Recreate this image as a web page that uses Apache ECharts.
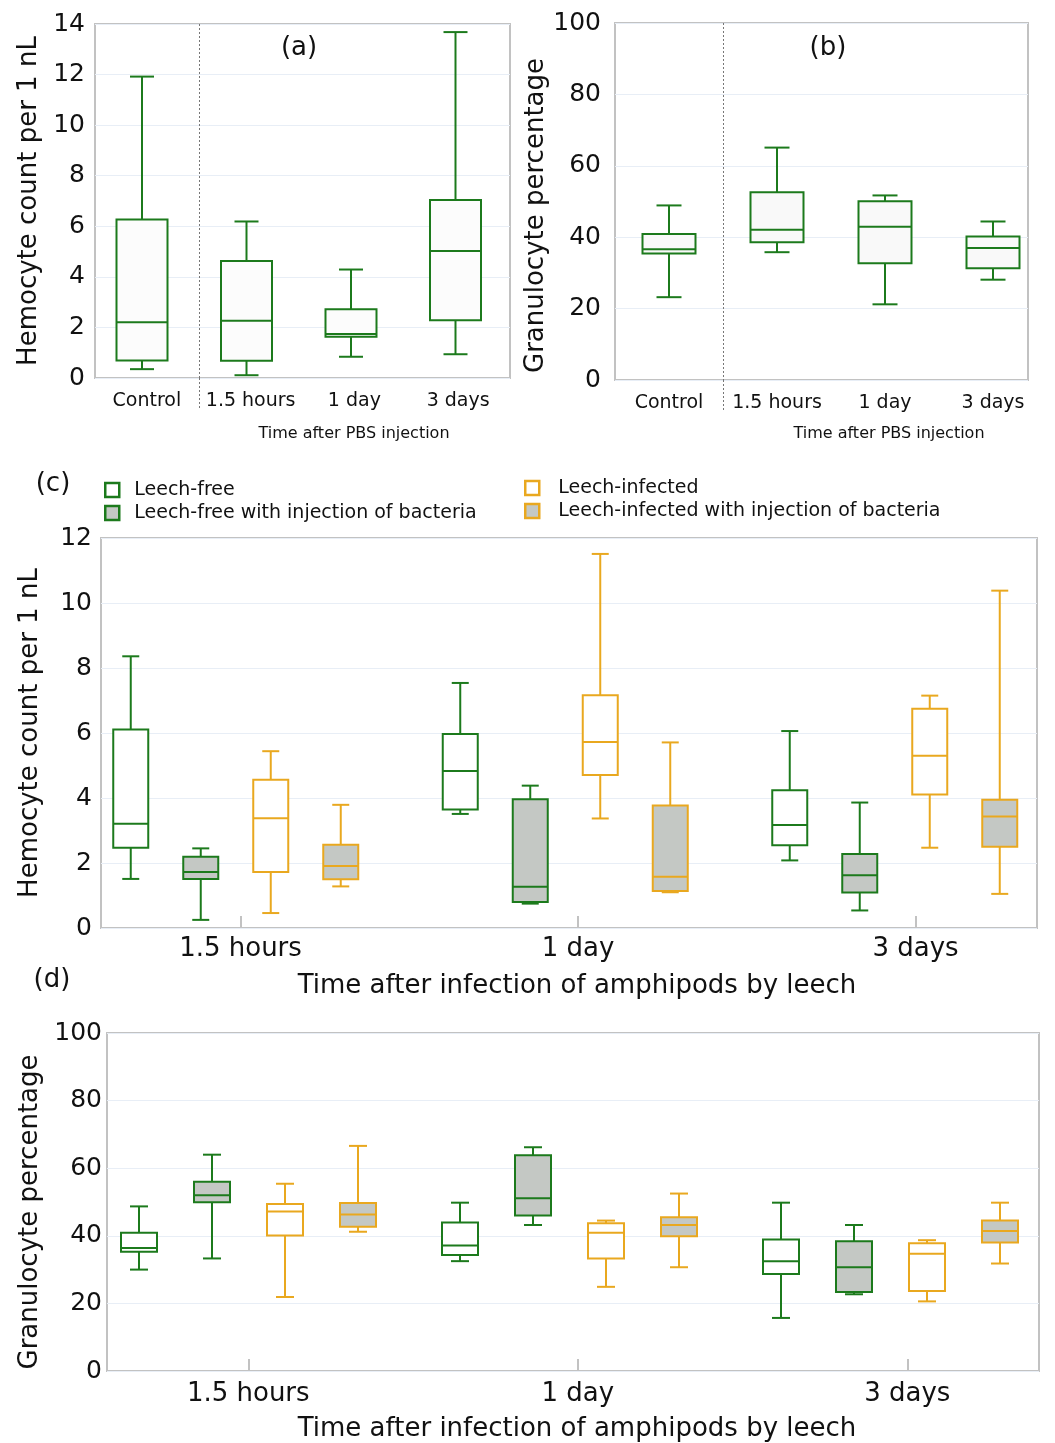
<!DOCTYPE html>
<html lang="en">
<head>
    <meta charset="UTF-8">
    <title>Hemocytes and granulocytes</title>
    <style>
        html, body { margin: 0; padding: 0; background: #fff; }
        #main { width: 1055px; height: 1443px; }
    </style>
</head>
<body>
<div id="main"></div>
<script src="https://cdn.jsdelivr.net/npm/echarts@6/dist/echarts.min.js"></script>
<script>
    // categories
    var timesPBS = ['Control', '1.5 hours', '1 day', '3 days'];
    var timesLeech = ['1.5 hours', '1 day', '3 days'];

    // every box is [min, Q1, median, Q3, max]
    var hemoPBS = [
        [0.35, 0.69, 2.20, 6.27, 11.92],
        [0.11, 0.68, 2.26, 4.63, 6.19],
        [0.84, 1.63, 1.74, 2.72, 4.29],
        [0.94, 2.28, 5.02, 7.04, 13.68]
    ];
    var granPBS = [
        [23.2, 35.4, 36.6, 40.9, 48.9],
        [35.8, 38.6, 42.1, 52.6, 65.1],
        [21.2, 32.7, 42.9, 50.1, 51.7],
        [28.1, 31.3, 37.0, 40.2, 44.4]
    ];

    var hemoLeechFree     = [[1.51, 2.47, 3.21, 6.11, 8.36], [3.51, 3.65, 4.83, 5.97, 7.54], [2.08, 2.55, 3.17, 4.24, 6.06]];
    var hemoLeechFreeBact = [[0.25, 1.51, 1.72, 2.19, 2.45], [0.75, 0.80, 1.27, 3.96, 4.38], [0.54, 1.09, 1.62, 2.28, 3.86]];
    var hemoInfected      = [[0.46, 1.72, 3.38, 4.56, 5.44], [3.37, 4.71, 5.72, 7.16, 11.51], [2.47, 4.11, 5.30, 6.75, 7.15]];
    var hemoInfectedBact  = [[1.28, 1.50, 1.91, 2.56, 3.79], [1.10, 1.14, 1.58, 3.77, 5.71], [1.05, 2.50, 3.43, 3.95, 10.38]];

    var granLeechFree     = [[30.0, 35.3, 36.4, 40.9, 48.7], [32.5, 34.3, 37.1, 43.9, 49.8], [15.7, 28.7, 32.5, 38.9, 49.8]];
    var granLeechFreeBact = [[33.3, 49.9, 52.0, 56.0, 64.0], [43.2, 46.0, 51.1, 63.8, 66.2], [22.7, 23.4, 30.7, 38.4, 43.2]];
    var granInfected      = [[21.9, 40.1, 47.2, 49.4, 55.4], [24.9, 33.3, 40.9, 43.7, 44.5], [20.6, 23.7, 34.7, 37.8, 38.7]];
    var granInfectedBact  = [[41.2, 42.7, 46.3, 49.7, 66.6], [30.7, 39.9, 43.2, 45.5, 52.5], [31.8, 38.0, 41.4, 44.5, 49.8]];

    var GREEN = '#1c7a1c';
    var ORANGE = '#e9a81f';
    var GRAY = '#c4c8c4';
    var FONT = 'DejaVu Sans';
    var BORDER = '#c2c2c2';
    var GRIDLINE = '#e8eef6';

    // [min, q1, med, q3, max] -> [categoryIndex, min, q1, med, q3, max]
    function withIndex(rows) {
        return rows.map(function (r, i) { return [i].concat(r); });
    }

    // box drawn with the axis scales, caps are narrower than the box
    function boxRenderer(lineColor, fillColor, boxW, capW, shift) {
        return function (params, api) {
            var cat = api.value(0);
            var pt = function (k) { return api.coord([cat, api.value(k)]); };
            var x = pt(3)[0] + shift;
            var yMin = pt(1)[1], yQ1 = pt(2)[1], yMed = pt(3)[1], yQ3 = pt(4)[1], yMax = pt(5)[1];
            function ln(x1, y1, x2, y2) {
                return {type: 'line', shape: {x1: x1, y1: y1, x2: x2, y2: y2},
                    style: {stroke: lineColor, lineWidth: 2, fill: null}};
            }
            return {
                type: 'group',
                children: [
                    ln(x, yMax, x, yQ3),
                    ln(x, yQ1, x, yMin),
                    ln(x - capW / 2, yMax, x + capW / 2, yMax),
                    ln(x - capW / 2, yMin, x + capW / 2, yMin),
                    {type: 'rect', shape: {x: x - boxW / 2, y: yQ3, width: boxW, height: yQ1 - yQ3},
                        style: {fill: fillColor, stroke: lineColor, lineWidth: 2}},
                    ln(x - boxW / 2, yMed, x + boxW / 2, yMed)
                ]
            };
        };
    }

    function boxSeries(name, rows, axisIdx, lineColor, fillColor, boxW, capW, shift) {
        return {
            type: 'custom',
            name: name,
            xAxisIndex: axisIdx,
            yAxisIndex: axisIdx,
            data: withIndex(rows),
            encode: {x: 0, y: [1, 2, 3, 4, 5]},
            itemStyle: {color: fillColor, borderColor: lineColor},
            renderItem: boxRenderer(lineColor, fillColor, boxW, capW, shift)
        };
    }

    function valueAxis(grid, max, step, margin, name, nameGap, namePad) {
        return {
            type: 'value', gridIndex: grid, min: 0, max: max, interval: step,
            axisLine: {show: false}, axisTick: {show: false},
            axisLabel: {fontSize: 25, fontFamily: FONT, color: '#111', margin: margin},
            splitLine: {lineStyle: {color: GRIDLINE, width: 1}},
            name: name, nameLocation: 'middle', nameGap: nameGap,
            nameTextStyle: {fontSize: 26, fontFamily: FONT, color: '#111', padding: namePad || 0}
        };
    }
    function hiddenValue(grid, max) {
        return {type: 'value', gridIndex: grid, min: 0, max: max, show: false, splitLine: {show: false}};
    }
    function hiddenCat(grid, cats) {
        return {type: 'category', gridIndex: grid, data: cats, show: false};
    }
    function pbsAxis(grid) {
        return {
            type: 'category', gridIndex: grid, data: timesPBS,
            axisLine: {show: false}, axisTick: {show: false},
            axisLabel: {fontSize: 19, fontFamily: FONT, color: '#111', margin: 14, interval: 0}
        };
    }
    // dotted divider after "Control": one tick on a 0..n band axis
    function dividerAxis(grid) {
        var dotted = {color: '#777', width: 1, type: [2, 2]};
        return {
            type: 'value', gridIndex: grid, position: 'bottom', min: 0, max: timesPBS.length,
            axisLine: {show: false}, axisLabel: {show: false},
            axisTick: {show: true, customValues: [1], length: 32, lineStyle: dotted},
            splitLine: {show: true, lineStyle: dotted}
        };
    }
    function leechAxis(grid, margin) {
        return {
            type: 'category', gridIndex: grid, data: timesLeech,
            axisLine: {show: false},
            axisTick: {show: true, alignWithLabel: true, inside: true, length: 12,
                lineStyle: {color: BORDER, width: 2}},
            axisLabel: {fontSize: 26, fontFamily: FONT, color: '#111', margin: margin, interval: 0}
        };
    }

    function title(text, left, top, size) {
        return {text: text, left: left, top: top, textAlign: 'center', padding: 0,
            textStyle: {fontSize: size, fontWeight: 'normal', fontFamily: FONT, color: '#111'}};
    }

    function legendItem(name, fill, line) {
        return {name: name, itemStyle: {color: fill, borderColor: line, borderWidth: 2.5}};
    }

    function grid(l, t, w, h, visible) {
        var g = {left: l, top: t, width: w, height: h, outerBoundsMode: 'none', containLabel: false};
        if (visible) {
            g.show = true; g.borderColor = BORDER; g.borderWidth = 2; g.backgroundColor = 'transparent';
        } else {
            g.show = false;
        }
        return g;
    }

    var names = ['Leech-free', 'Leech-free with injection of bacteria',
        'Leech-infected', 'Leech-infected with injection of bacteria'];

    var option = {
        backgroundColor: '#fff',
        animation: false,
        title: [
            title('(a)', 299, 35, 26),
            title('(b)', 828, 35, 26),
            title('Time after PBS injection', 354, 426, 16),
            title('Time after PBS injection', 889, 426, 16),
            title('(c)', 53, 471, 26),
            title('Time after infection of amphipods by leech', 577, 973, 26),
            title('(d)', 52, 967, 26),
            title('Time after infection of amphipods by leech', 577, 1416, 26)
        ],
        legend: [{
            data: [legendItem(names[0], '#fff', GREEN), legendItem(names[1], GRAY, GREEN)],
            orient: 'vertical', left: 104, top: 479, padding: 0, itemGap: 1,
            icon: 'rect', itemWidth: 14, itemHeight: 14,
            textStyle: {fontSize: 19, fontFamily: FONT, color: '#111', lineHeight: 22, padding: [0, 0, 0, 10]}
        }, {
            data: [legendItem(names[2], '#fff', ORANGE), legendItem(names[3], GRAY, ORANGE)],
            orient: 'vertical', left: 524, top: 477, padding: 0, itemGap: 1,
            icon: 'rect', itemWidth: 14, itemHeight: 14,
            textStyle: {fontSize: 19, fontFamily: FONT, color: '#111', lineHeight: 22, padding: [0, 0, 0, 14]}
        }],
        grid: [
            grid(95, 24, 415, 354, true),        // 0 (a) frame and labels
            grid(615, 23, 413, 357, true),       // 1 (b) frame
            grid(615, 23, 432, 357, false),      // 2 (b) boxes and labels
            grid(101, 538, 936, 390, true),      // 3 (c) frame
            grid(71.75, 538, 1012.5, 390, false),// 4 (c) labels
            grid(71, 538, 988.5, 390, false),    // 5 (c) boxes
            grid(107, 1033, 932, 338, true),     // 6 (d) frame
            grid(83.5, 1033, 988.5, 338, false), // 7 (d) labels
            grid(88, 1033, 963, 338, false),     // 8 (d) boxes
            grid(89.75, 24, 418, 354, false)     // 9 (a) boxes
        ],
        xAxis: [
            pbsAxis(0),
            hiddenCat(1, timesPBS),
            pbsAxis(2),
            hiddenCat(3, timesLeech),
            leechAxis(4, 8),
            hiddenCat(5, timesLeech),
            hiddenCat(6, timesLeech),
            leechAxis(7, 10),
            hiddenCat(8, timesLeech),
            hiddenCat(9, timesPBS),
            dividerAxis(0),
            dividerAxis(2)
        ],
        yAxis: [
            valueAxis(0, 14, 2, 10, 'Hemocyte count per 1 nL', 53),
            valueAxis(1, 100, 20, 14, 'Granulocyte percentage', 61, [0, 28, 0, 0]),
            hiddenValue(2, 100),
            valueAxis(3, 12, 2, 9, 'Hemocyte count per 1 nL', 58),
            hiddenValue(4, 12),
            hiddenValue(5, 12),
            valueAxis(6, 100, 20, 5, 'Granulocyte percentage', 63, [0, 20, 0, 0]),
            hiddenValue(7, 100),
            hiddenValue(8, 100),
            hiddenValue(9, 14)
        ],
        series: [
            boxSeries('PBS hemocytes', hemoPBS, 9, GREEN, '#fcfcfc', 51, 24, 0),
            boxSeries('PBS granulocytes', granPBS, 2, GREEN, '#f9f9f9', 53, 25, 0),

            boxSeries(names[0], hemoLeechFree, 5, GREEN, '#fff', 35, 17, -105),
            boxSeries(names[1], hemoLeechFreeBact, 5, GREEN, GRAY, 35, 17, -35),
            boxSeries(names[2], hemoInfected, 5, ORANGE, '#fff', 35, 17, 35),
            boxSeries(names[3], hemoInfectedBact, 5, ORANGE, GRAY, 35, 17, 105),

            boxSeries(names[0], granLeechFree, 8, GREEN, '#fff', 36, 18, -109.5),
            boxSeries(names[1], granLeechFreeBact, 8, GREEN, GRAY, 36, 18, -36.5),
            boxSeries(names[2], granInfected, 8, ORANGE, '#fff', 36, 18, 36.5),
            boxSeries(names[3], granInfectedBact, 8, ORANGE, GRAY, 36, 18, 109.5)
        ]
    };

    var myChart = echarts.init(document.getElementById('main'), null, {renderer: 'canvas'});
    myChart.setOption(option);
</script>
</body>
</html>
